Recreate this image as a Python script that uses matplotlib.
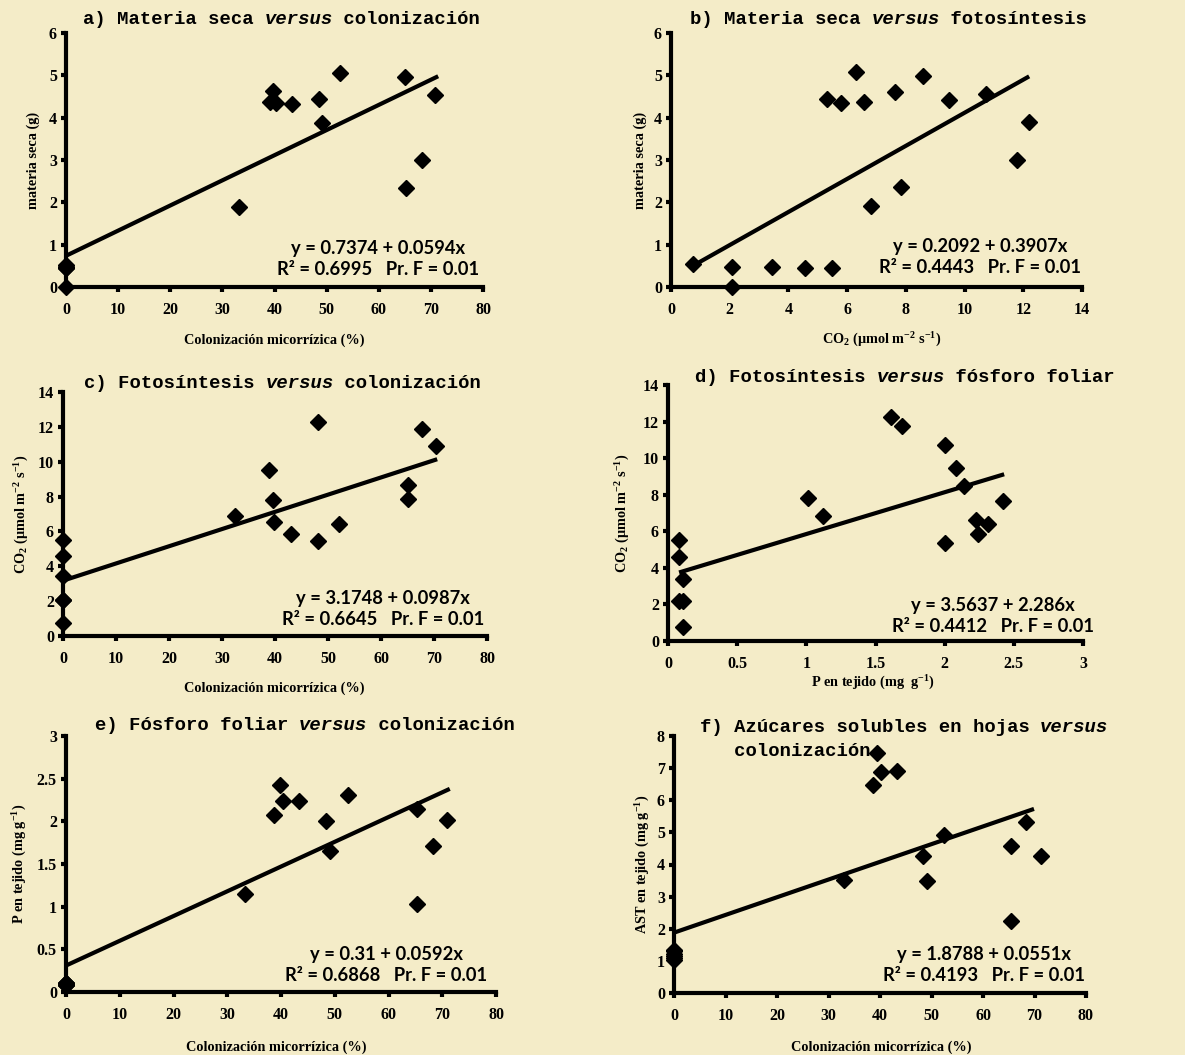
import matplotlib.pyplot as plt
from matplotlib.transforms import offset_copy
import numpy as np

W, H = 1185, 1055
fondo = '#F4ECC8'

plt.rcParams['font.family'] = 'Liberation Serif'
plt.rcParams['font.weight'] = 'bold'
plt.rcParams['mathtext.fontset'] = 'custom'
plt.rcParams['mathtext.rm'] = 'Liberation Serif:bold'
plt.rcParams['mathtext.it'] = 'Liberation Serif:bold:italic'
plt.rcParams['mathtext.bf'] = 'Liberation Serif:bold'

# a) materia seca vs colonizacion
col_a = [0, 0, 0, 0, 0, 0, 33.1, 39.1, 39.8, 40.2, 43.3, 48.5, 49.1, 52.6, 65.1, 65.3, 68.3, 70.8]
ms_a = [0.52, 0.48, 0.47, 0.46, 0.45, 0.0, 1.89, 4.38, 4.62, 4.34, 4.33, 4.44, 3.87, 5.05, 4.96, 2.34, 3.0, 4.54]

# b) materia seca vs fotosintesis
co2_b = [0.75, 2.08, 2.08, 3.43, 4.57, 5.49, 5.31, 5.8, 6.29, 6.57, 6.8, 7.63, 7.83, 8.6, 9.46, 10.74, 11.8, 12.2]
ms_b = [0.54, 0.48, 0.0, 0.48, 0.46, 0.46, 4.45, 4.35, 5.07, 4.37, 1.91, 4.6, 2.37, 4.98, 4.41, 4.57, 3.01, 3.9]

# c) fotosintesis vs colonizacion
col_c = [0, 0, 0, 0, 0, 0, 32.4, 38.9, 39.6, 39.9, 43.1, 48.2, 48.2, 52.1, 65.1, 65.1, 67.8, 70.4]
co2_c = [5.49, 4.57, 3.43, 2.08, 2.08, 0.75, 6.88, 9.5, 7.78, 6.54, 5.87, 12.28, 5.45, 6.44, 8.64, 7.84, 11.9, 10.88]

# d) fotosintesis vs fosforo foliar
p_d = [0.08, 0.08, 0.11, 0.08, 0.11, 0.11, 1.01, 1.12, 1.61, 1.69, 2.0, 2.08, 2.14, 2.0, 2.23, 2.24, 2.31, 2.42]
co2_d = [5.52, 4.58, 3.4, 2.2, 2.2, 0.75, 7.8, 6.84, 12.27, 11.78, 10.72, 9.44, 8.48, 5.38, 6.62, 5.85, 6.4, 7.66]

# e) fosforo foliar vs colonizacion
col_e = [0, 0, 0, 0, 0, 0, 33.3, 38.75, 39.9, 40.3, 43.4, 48.4, 49.2, 52.5, 65.3, 65.3, 68.25, 70.9]
p_e = [0.11, 0.08, 0.08, 0.11, 0.08, 0.11, 1.15, 2.08, 2.42, 2.24, 2.24, 2.0, 1.65, 2.31, 2.15, 1.03, 1.71, 2.02]

# f) azucares solubles vs colonizacion
col_f = [0, 0, 0, 0, 0, 0, 33.0, 38.6, 39.4, 40.1, 43.3, 48.3, 49.1, 52.5, 65.5, 65.5, 68.3, 71.2]
ast_f = [1.35, 1.14, 1.04, 1.2, 1.1, 1.3, 3.52, 6.48, 7.48, 6.89, 6.91, 4.25, 3.49, 4.92, 4.58, 2.23, 5.31, 4.27]

# rectas (intercepto, pendiente); en e) la recta dibujada no sigue la ecuacion impresa
rectas = {
    'a': (0.7374, 0.0594, [0, 71.4]),
    'b': (0.2092, 0.3907, [0.75, 12.2]),
    'c': (3.1748, 0.0987, [0, 70.6]),
    'd': (3.5637, 2.286, [0.08, 2.43]),
    'e': (0.31, 0.029, [0, 71.4]),
    'f': (1.8788, 0.0551, [0, 69.9]),
}

ecuaciones = {
    'a': 'y = 0.7374 + 0.0594x\nR² = 0.6995   Pr. F = 0.01',
    'b': 'y = 0.2092 + 0.3907x\nR² = 0.4443   Pr. F = 0.01',
    'c': 'y = 3.1748 + 0.0987x\nR² = 0.6645   Pr. F = 0.01',
    'd': 'y = 3.5637 + 2.286x\nR² = 0.4412   Pr. F = 0.01',
    'e': 'y = 0.31 + 0.0592x\nR² = 0.6868   Pr. F = 0.01',
    'f': 'y = 1.8788 + 0.0551x\nR² = 0.4193   Pr. F = 0.01',
}

lab_col = 'Colonización micorrízica (%)'
lab_ms = 'materia seca (g)'
lab_co2 = r'CO$_2$ (µmol m$^{-2}$ s$^{-1}$)'
lab_p = r'P en tejido (mg g$^{-1}$)'
lab_p2 = r'P en tejido (mg  g$^{-1}$)'
lab_ast = r'AST en tejido (mg g$^{-1}$)'

# panel: datos, limites, ticks, caja en pixeles (x0, y0, x1, y1), etiquetas
paneles = [
    ('a', col_a, ms_a, (0, 80), (0, 6), np.arange(0, 81, 10), np.arange(0, 7, 1),
     (66, 33, 483, 287), lab_col, lab_ms, (274, 340), (33, 160), (378, 259)),
    ('b', co2_b, ms_b, (0, 14), (0, 6), np.arange(0, 15, 2), np.arange(0, 7, 1),
     (671, 33, 1082, 287), lab_co2, lab_ms, (882, 340), (640, 160), (980, 257)),
    ('c', col_c, co2_c, (0, 80), (0, 14), np.arange(0, 81, 10), np.arange(0, 15, 2),
     (63, 392, 487, 636), lab_col, lab_co2, (274, 688), (22, 514), (383, 609)),
    ('d', p_d, co2_d, (0, 3), (0, 14), np.arange(0, 3.1, 0.5), np.arange(0, 15, 2),
     (668, 385, 1083, 641), lab_p2, lab_co2, (873, 683), (623, 513), (993, 616)),
    ('e', col_e, p_e, (0, 80), (0, 3), np.arange(0, 81, 10), np.arange(0, 3.1, 0.5),
     (66, 736, 496, 992), lab_col, lab_p, (276, 1047), (20, 864), (386, 965)),
    ('f', col_f, ast_f, (0, 80), (0, 8), np.arange(0, 81, 10), np.arange(0, 9, 1),
     (674, 736, 1086, 993), lab_col, lab_ast, (881, 1047), (643, 864), (984, 965)),
]

titulos = [
    (83, 20, [('a) Materia seca ', 'normal'), ('versus', 'italic'), (' colonización', 'normal')]),
    (690, 20, [('b) Materia seca ', 'normal'), ('versus', 'italic'), (' fotosíntesis', 'normal')]),
    (84, 384, [('c) Fotosíntesis ', 'normal'), ('versus', 'italic'), (' colonización', 'normal')]),
    (695, 378, [('d) Fotosíntesis ', 'normal'), ('versus', 'italic'), (' fósforo foliar', 'normal')]),
    (95, 726, [('e) Fósforo foliar ', 'normal'), ('versus', 'italic'), (' colonización', 'normal')]),
    (700, 727, [('f) Azúcares solubles en hojas ', 'normal'), ('versus', 'italic')]),
    (700, 751, [('   colonización', 'normal')]),
]

fig = plt.figure(figsize=(W / 100, H / 100), dpi=100, facecolor=fondo)


def fx(px):
    return px / W


def fy(py):
    return 1 - py / H


for (letra, xs, ys, xlim, ylim, xt, yt, caja, xlab, ylab, pxl, pyl, peq) in paneles:
    x0, y0, x1, y1 = caja
    ax = fig.add_axes([fx(x0), fy(y1), (x1 - x0) / W, (y1 - y0) / H])
    ax.set_facecolor('none')
    ax.set_xlim(*xlim)
    ax.set_ylim(*ylim)
    ax.set_xticks(xt)
    ax.set_yticks(yt)
    ax.set_xticklabels(['%g' % v for v in xt])
    ax.set_yticklabels(['%g' % v for v in yt])
    for s in ['top', 'right']:
        ax.spines[s].set_visible(False)
    for s in ['left', 'bottom']:
        ax.spines[s].set_linewidth(3)
    ax.tick_params(axis='both', direction='out', length=3.5, width=3, labelsize=11.5)
    ax.tick_params(axis='x', pad=7)
    ax.tick_params(axis='y', pad=3)

    b0, m, xr = rectas[letra]
    xr = np.array(xr)
    ax.plot(xr, b0 + m * xr, color='black', lw=3, solid_capstyle='butt', clip_on=False, zorder=3)
    ax.plot(xs, ys, 'D', color='black', ms=8.5, clip_on=False, zorder=4)

    fig.text(fx(peq[0]), fy(peq[1]), ecuaciones[letra], ha='center', va='center',
             multialignment='center', family='Lato', weight='bold', fontsize=13.2, linespacing=1.3)
    fig.text(fx(pxl[0]), fy(pxl[1]), xlab, ha='center', va='center', fontsize=10.3)
    fig.text(fx(pyl[0]), fy(pyl[1]), ylab, ha='center', va='center', rotation=90, fontsize=10.3)

fs_t = 13.6
for (px, py, partes) in titulos:
    k = 0
    for texto, estilo in partes:
        tr = offset_copy(fig.transFigure, fig=fig, x=k * 0.6 * fs_t, y=0, units='points')
        fig.text(fx(px), fy(py), texto, transform=tr, family='Liberation Mono', weight='bold',
                 style=estilo, fontsize=fs_t, va='center', ha='left')
        k += len(texto)

fig.savefig('out.png', dpi=100, facecolor=fondo)
